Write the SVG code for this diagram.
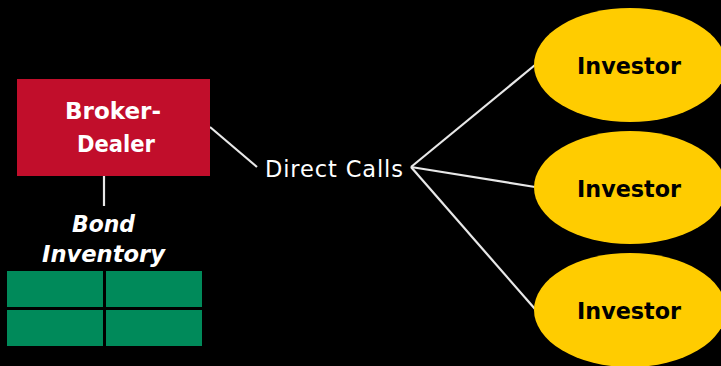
<svg xmlns="http://www.w3.org/2000/svg" width="721" height="366" viewBox="0 0 721 366">
<style>
.conn{stroke:#E8E8E8;stroke-width:2.2;fill:none;stroke-linecap:butt}
.inv{fill:#FFCC00}
.invt{font-family:"DejaVu Sans",sans-serif;font-weight:bold;font-size:23.5px;fill:#000;text-anchor:middle}
.wb{font-family:"DejaVu Sans",sans-serif;font-weight:bold;font-size:23px;fill:#fff;text-anchor:middle}
.wi{font-family:"DejaVu Sans",sans-serif;font-weight:bold;font-style:italic;font-size:23.5px;fill:#fff;text-anchor:middle}
.cell{fill:#008A5A}
</style>
<rect x="0" y="0" width="721" height="366" fill="#000"/>
<g id="connectors">
<line class="conn" x1="210" y1="127" x2="257" y2="167"/>
<line class="conn" x1="104" y1="174" x2="104" y2="206"/>
<line class="conn" x1="411" y1="167" x2="535" y2="65"/>
<line class="conn" x1="411" y1="167" x2="535" y2="187"/>
<line class="conn" x1="411" y1="167" x2="535" y2="309"/>
</g>
<g id="broker-dealer">
<rect x="17" y="79" width="193" height="97" fill="#C10E2B"/>
<text class="wb" x="113" y="119" textLength="96" lengthAdjust="spacingAndGlyphs">Broker-</text>
<text class="wb" x="116" y="152" textLength="78" lengthAdjust="spacingAndGlyphs">Dealer</text>
</g>
<g id="bond-inventory">
<text class="wi" x="103.5" y="232" textLength="63" lengthAdjust="spacingAndGlyphs">Bond</text>
<text class="wi" x="103.5" y="262" textLength="123" lengthAdjust="spacingAndGlyphs">Inventory</text>
<rect class="cell" x="7" y="271" width="96" height="36"/>
<rect class="cell" x="106" y="271" width="96" height="36"/>
<rect class="cell" x="7" y="310" width="96" height="36"/>
<rect class="cell" x="106" y="310" width="96" height="36"/>
</g>
<g id="direct-calls">
<text x="265" y="177" font-family="DejaVu Sans, sans-serif" font-size="22.5px" fill="#fff" textLength="138" lengthAdjust="spacing">Direct Calls</text>
</g>
<g id="investor-1">
<ellipse class="inv" cx="630" cy="65" rx="96" ry="57"/>
<text class="invt" x="629" y="74" textLength="104" lengthAdjust="spacingAndGlyphs">Investor</text>
</g>
<g id="investor-2">
<ellipse class="inv" cx="630" cy="187.5" rx="96" ry="56.5"/>
<text class="invt" x="629" y="196.5" textLength="104" lengthAdjust="spacingAndGlyphs">Investor</text>
</g>
<g id="investor-3">
<ellipse class="inv" cx="630" cy="310" rx="96" ry="57"/>
<text class="invt" x="629" y="319" textLength="104" lengthAdjust="spacingAndGlyphs">Investor</text>
</g>
</svg>
